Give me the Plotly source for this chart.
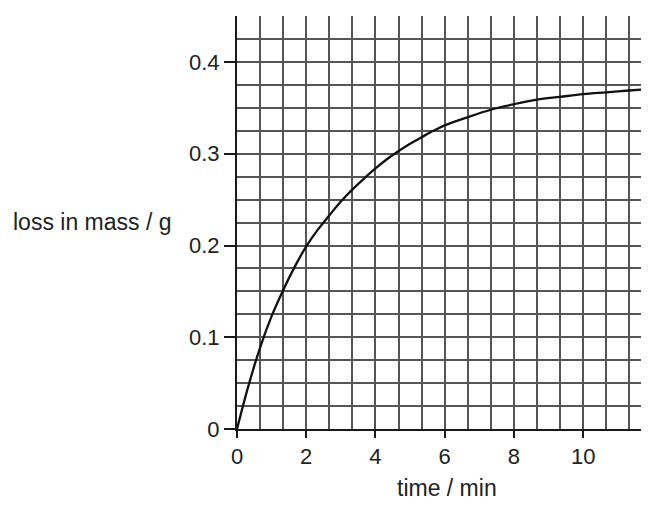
import plotly.graph_objects as go

# data
time_min = [0, 0.33, 0.67, 1.0, 1.33, 1.67, 2.0, 2.33, 2.67, 3.0, 3.33, 3.67,
            4.0, 4.33, 4.67, 5.0, 5.33, 5.67, 6.0, 6.67, 7.33, 8.0, 8.67,
            9.33, 10.0, 10.67, 11.33, 12.0]
loss_g = [0, 0.047, 0.089, 0.123, 0.151, 0.177, 0.199, 0.217, 0.233, 0.248,
          0.261, 0.273, 0.284, 0.294, 0.303, 0.311, 0.318, 0.325, 0.331,
          0.340, 0.348, 0.354, 0.359, 0.362, 0.365, 0.367, 0.369, 0.371]

x_title = "time / min"
y_title = "loss in mass / g"

FONT = "Liberation Sans, Arial, sans-serif"
GRID = "#555555"
AXIS = "#1a1a1a"
TXT = "#222222"

fig = go.Figure()
fig.add_trace(go.Scatter(
    x=time_min, y=loss_g, mode="lines",
    line=dict(color="#111111", width=2.3, shape="spline", smoothing=1.0),
    showlegend=False, hoverinfo="skip",
))

fig.update_layout(
    width=633, height=492,
    margin=dict(l=229, r=0, t=7.5, b=70.5, autoexpand=False),
    paper_bgcolor="white", plot_bgcolor="white",
    font=dict(family=FONT, size=22, color=TXT),
    xaxis=dict(
        range=[0, 11.67], tick0=0, dtick=2,
        showgrid=True, gridcolor=GRID, gridwidth=1.5,
        minor=dict(dtick=2/3, tick0=0, showgrid=True, gridcolor=GRID, gridwidth=1.5, ticks=""),
        showline=True, linecolor=AXIS, linewidth=2,
        ticks="outside", ticklen=7, tickwidth=2, tickcolor=AXIS,
        zeroline=False, fixedrange=True,
    ),
    yaxis=dict(
        range=[0, 0.4502], tick0=0, dtick=0.1,
        showgrid=True, gridcolor=GRID, gridwidth=1.5,
        minor=dict(dtick=0.025, tick0=0, showgrid=True, gridcolor=GRID, gridwidth=1.5, ticks=""),
        showline=True, linecolor=AXIS, linewidth=2,
        ticks="outside", ticklen=11, tickwidth=2, tickcolor=AXIS,
        zeroline=False, fixedrange=True,
    ),
    annotations=[
        dict(text=x_title, xref="paper", yref="paper", x=0.52, y=-0.18,
             xanchor="center", yanchor="bottom", showarrow=False,
             font=dict(family=FONT, size=23, color=TXT)),
        dict(text=y_title, xref="paper", yref="paper", x=-0.358, y=0.501,
             xanchor="center", yanchor="middle", showarrow=False,
             font=dict(family=FONT, size=23, color=TXT)),
    ],
)

fig.write_html("out.html")
